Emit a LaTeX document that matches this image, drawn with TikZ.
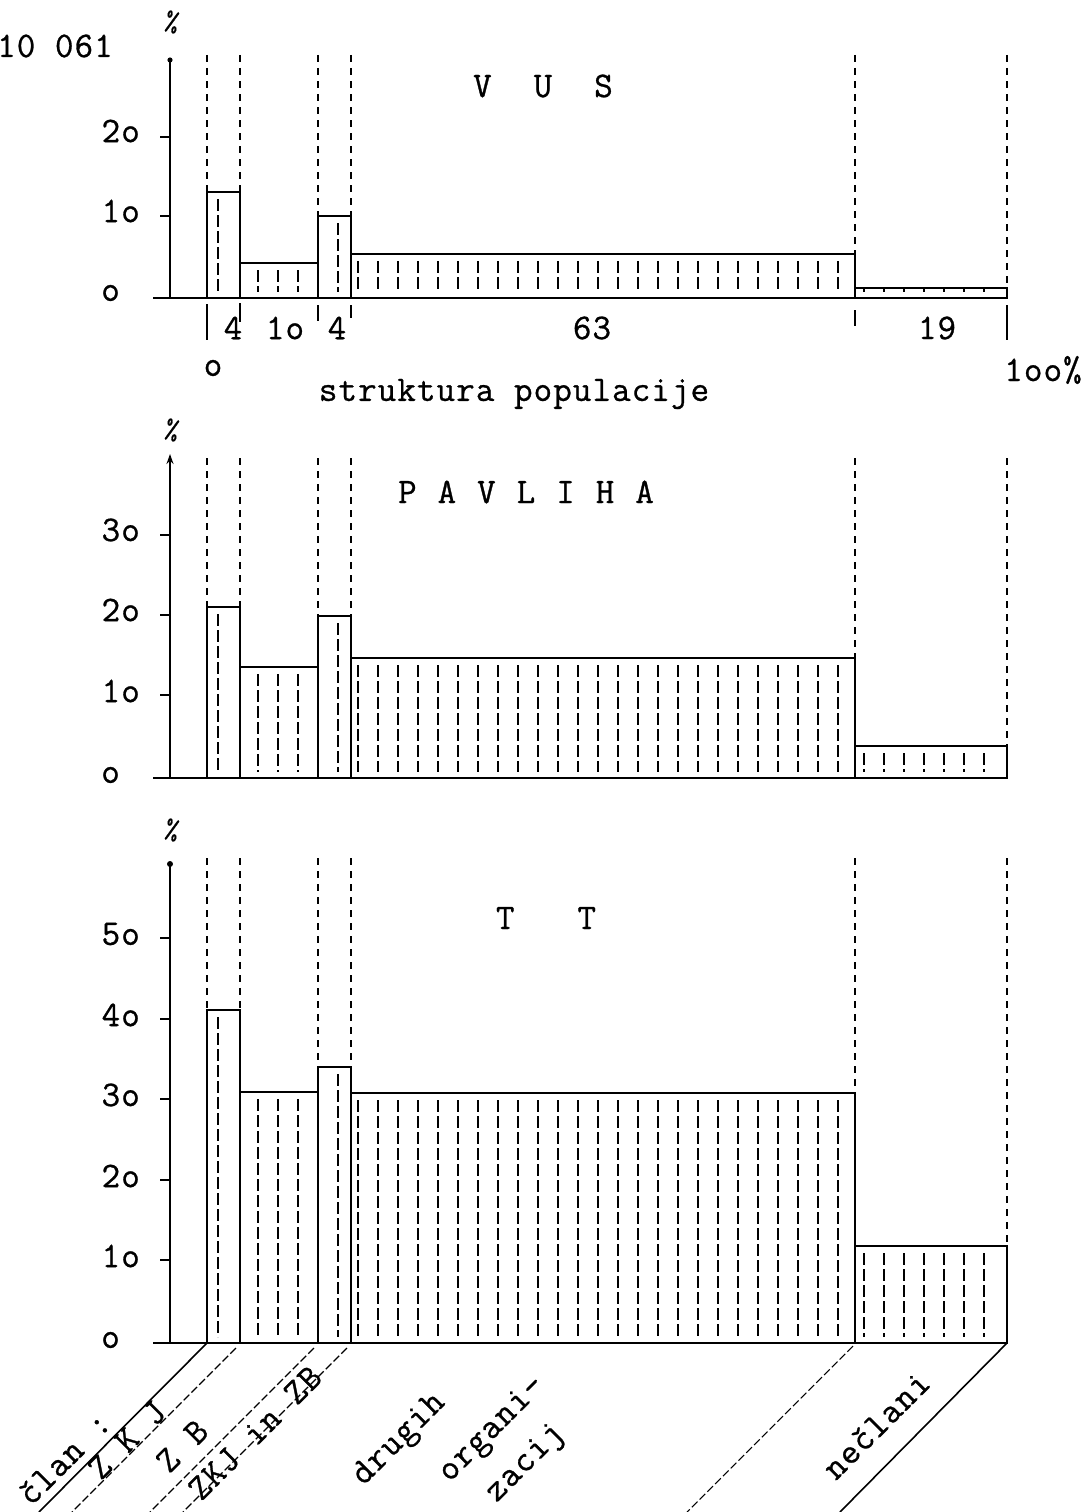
\documentclass[tikz,border=0pt]{standalone}
\usepackage{fontspec}
\newfontfamily\tw{Latin Modern Mono}[LetterSpace=3, FakeBold=0.8]
\usetikzlibrary{arrows.meta}
\newcommand\mychart[8]{% #1 base, #2 guide top, #3..#7 bar tops, #8 axis top
  \foreach \gx in {207,240,318,351,855,1007}
    \draw[guide] (\gx,#2) -- (\gx,#1);
  \draw[barline] (207,#1) rectangle (240,#3);
  \draw[barline] (240,#1) rectangle (318,#4);
  \draw[barline] (318,#1) rectangle (351,#5);
  \draw[barline] (351,#1) rectangle (855,#6);
  \draw[barline] (855,#1) rectangle (1007,#7);
  \foreach \hx in {218} \draw[hatch] (\hx,{min(#3+7,#1-9)}) -- (\hx,#1-6);
  \foreach \hx in {258,278,298} \draw[hatch] (\hx,{min(#4+7,#1-9)}) -- (\hx,#1-6);
  \foreach \hx in {338} \draw[hatch] (\hx,{min(#5+7,#1-9)}) -- (\hx,#1-6);
  \foreach \hx in {358,378,...,838} \draw[hatch] (\hx,{min(#6+7,#1-9)}) -- (\hx,#1-6);
  \foreach \hx in {864,884,...,1000} \draw[hatch] (\hx,{min(#7+7,#1-9)}) -- (\hx,#1-6);
  \draw[barline] (153,#1) -- (1007,#1);
  \draw[axisline] (170,#1) -- (170,#8);
}
\begin{document}
\begin{tikzpicture}[x=1pt,y=-1pt,
  txt/.style={font=\tw\fontsize{36}{38}\selectfont, inner sep=0pt},
  small/.style={font=\tw\fontsize{28}{30}\selectfont, inner sep=0pt},
  guide/.style={line width=1.2pt, dash pattern=on 7pt off 6pt},
  barline/.style={line width=1.6pt},
  hatch/.style={line width=2.2pt, dash pattern=on 12pt off 4pt},
  axisline/.style={line width=1.8pt},
  diag/.style={line width=1.6pt},
  diagd/.style={line width=1.1pt, dash pattern=on 8pt off 3pt},
  tickline/.style={line width=1.4pt}
]
\useasboundingbox (0,0) rectangle (1084,1512);

% ---------------- top chart: VUS ----------------
\mychart{298}{55}{192}{263}{216}{254}{288}{58}
\fill (170,60) circle (2.6pt);
\foreach \ty in {137,216} \draw[tickline] (160,\ty) -- (170,\ty);
\node[txt, anchor=west] (n10061) at (-3,46) {10 061};
\node[small, rotate=-15] (pc1) at (172,22) {\%};
\node[txt, anchor=east] (t1a) at (140,131) {2o};
\node[txt, anchor=east] (t1b) at (140,211) {1o};
\node[txt, anchor=east] (t1c) at (120,293) {o};
\node[txt] (vus) at (543,86) {V\hspace{42pt}U\hspace{42pt}S};
\foreach \tx/\ta/\tb in {207/304/340,240/303/322,318/305/321,351/305/318,855/310/326,1007/305/340}
  \draw[tickline] (\tx,\ta) -- (\tx,\tb);
\node[txt] (s4a) at (233,328) {4};
\node[txt] (s10) at (285,328) {1o};
\node[txt] (s4b) at (337,328) {4};
\node[txt] (s63) at (592,328) {63};
\node[txt] (s19) at (937,328) {19};
\node[txt] (s0) at (213,368) {o};
\node[txt] (s100) at (1043,370) {1oo\%};
\node[txt] (struk) at (514,394) {struktura populacije};

% ---------------- middle chart: PAVLIHA ----------------
\mychart{778}{458}{607}{667}{616}{658}{746}{462}
\draw[axisline, -{Stealth[length=10pt,width=7pt]}] (170,470) -- (170,454);
\foreach \ty in {535,615,695} \draw[tickline] (160,\ty) -- (170,\ty);
\node[small, rotate=-15] (pc2) at (172,430) {\%};
\node[txt, anchor=east] (t2a) at (140,530) {3o};
\node[txt, anchor=east] (t2b) at (140,610) {2o};
\node[txt, anchor=east] (t2c) at (140,691) {1o};
\node[txt, anchor=east] (t2d) at (120,775) {o};
\node[txt] (pav) at (526,492) {P\hspace{21pt}A\hspace{21pt}V\hspace{21pt}L\hspace{21pt}I\hspace{21pt}H\hspace{21pt}A};

% ---------------- bottom chart: TT ----------------
\mychart{1343}{858}{1010}{1092}{1067}{1093}{1246}{864}
\fill (170,864) circle (3pt);
\foreach \ty in {938,1019,1099,1180,1260} \draw[tickline] (160,\ty) -- (170,\ty);
\node[small, rotate=-15] (pc3) at (172,830) {\%};
\node[txt, anchor=east] (t3a) at (140,934) {5o};
\node[txt, anchor=east] (t3b) at (140,1015) {4o};
\node[txt, anchor=east] (t3c) at (140,1095) {3o};
\node[txt, anchor=east] (t3d) at (140,1176) {2o};
\node[txt, anchor=east] (t3e) at (140,1256) {1o};
\node[txt, anchor=east] (t3f) at (120,1340) {o};
\node[txt] (tt) at (546,918) {T\hspace{63pt}T};

% diagonals
\coordinate (d1a) at (207,1343); \coordinate (d1b) at (39,1512);
\coordinate (d2a) at (236,1348); \coordinate (d2b) at (72,1512);
\coordinate (d3a) at (314,1348); \coordinate (d3b) at (150,1512);
\coordinate (d4a) at (347,1348); \coordinate (d4b) at (183,1512);
\coordinate (d5a) at (853,1346); \coordinate (d5b) at (687,1512);
\coordinate (d6a) at (1007,1343); \coordinate (d6b) at (840,1512);
\draw[diag] (d1a) -- (d1b);
\draw[diagd] (d2a) -- (d2b);
\draw[diagd] (d3a) -- (d3b);
\draw[diagd] (d4a) -- (d4b);
\draw[diagd] (d5a) -- (d5b);
\draw[diag] (d6a) -- (d6b);

\node[txt, rotate=45] (lclan) at (64,1458) {član :};
\node[txt, rotate=45] (lzkj) at (127,1440) {Z K J};
\node[txt, rotate=45] (lzb) at (182,1446) {Z\hspace{21pt}B};
\node[txt, rotate=45] (lzkjzb) at (255,1433) {ZKJ in ZB};
\node[txt, rotate=45] (ldrugih) at (400,1440) {drugih};
\node[txt, rotate=45] (lorg) at (493,1430) {organi-};
\node[txt, rotate=45] (lzacij) at (526,1464) {zacij};
\node[txt, rotate=45] (lneclani) at (876,1425) {nečlani};
\end{tikzpicture}
\end{document}
